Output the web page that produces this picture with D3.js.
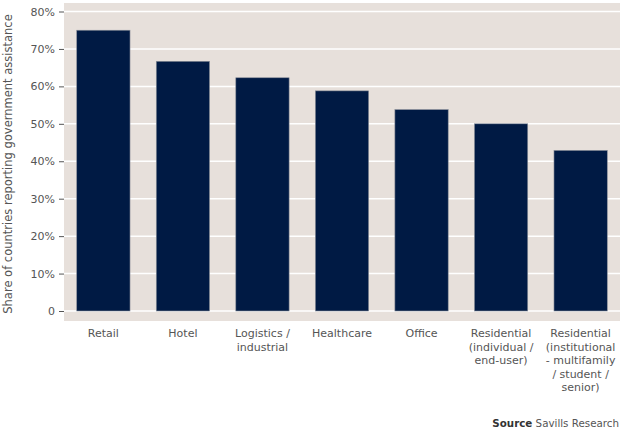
<!DOCTYPE html>
<html><head><meta charset="utf-8">
<script src="https://cdn.jsdelivr.net/npm/d3@7"></script>
<style>
body{margin:0;background:#fff;}
text{font-family:"DejaVu Sans",sans-serif;}
</style></head>
<body>
<svg id="c" width="626" height="439"></svg>
<script>
const categories = ["Retail","Hotel","Logistics / industrial","Healthcare","Office","Residential (individual / end-user)","Residential (institutional - multifamily / student / senior)"];
const labelLines = [["Retail"],["Hotel"],["Logistics /","industrial"],["Healthcare"],["Office"],["Residential","(individual /","end-user)"],["Residential","(institutional","- multifamily","/ student /","senior)"]];
const values = [75, 66.7, 62.3, 58.8, 53.8, 50, 42.9];
const yTicks = [0,10,20,30,40,50,60,70,80];
const yTickLabels = ["0","10%","20%","30%","40%","50%","60%","70%","80%"];

const svg = d3.select("#c");
const bg = {x0:64, x1:620, y0:3, y1:321};
const plot = {left:64, right:620, top:11.5, bottom:311};

svg.append("rect").attr("x",bg.x0).attr("y",bg.y0).attr("width",bg.x1-bg.x0).attr("height",bg.y1-bg.y0).attr("fill","#e7e0db");

const y = d3.scaleLinear().domain([0,80]).range([plot.bottom, plot.top]);
const x = d3.scaleBand().domain(categories).range([plot.left, plot.right]).paddingInner(0.33).paddingOuter(0.16);

svg.append("g").selectAll("line").data(yTicks).join("line")
  .attr("x1",plot.left).attr("x2",plot.right)
  .attr("y1",d=>y(d)).attr("y2",d=>y(d))
  .attr("stroke","#fff").attr("stroke-width",1.5);

const ax = svg.append("g").attr("transform",`translate(${plot.left},0)`)
  .call(d3.axisLeft(y).tickValues(yTicks).tickFormat((d,i)=>yTickLabels[i]).tickSize(5).tickPadding(4));
ax.select(".domain").remove();
ax.selectAll(".tick line").attr("stroke","#555");
ax.selectAll(".tick text").attr("fill","#555").attr("font-size",11);

svg.append("g").selectAll("rect").data(values).join("rect")
  .attr("x",(d,i)=>x(categories[i]))
  .attr("y",d=>y(d))
  .attr("width",x.bandwidth())
  .attr("height",d=>y(0)-y(d))
  .attr("fill","#001a44")
  .attr("stroke","#8a8f99").attr("stroke-width",0.6);

const lg = svg.append("g");
labelLines.forEach((lines,i)=>{
  const cx = x(categories[i]) + x.bandwidth()/2;
  lines.forEach((l,j)=>{
    lg.append("text").attr("text-anchor","middle").attr("fill","#555").attr("font-size",11)
      .attr("x",cx).attr("y",337+j*13.6).text(l);
  });
});

svg.append("text").attr("transform","translate(12,164) rotate(-90)")
  .attr("text-anchor","middle").attr("fill","#555").attr("font-size",11.5)
  .text("Share of countries reporting government assistance");

const src = svg.append("text").attr("x",619).attr("y",427).attr("text-anchor","end").attr("font-size",10.3).attr("fill","#333");
src.append("tspan").attr("font-weight","bold").text("Source");
src.append("tspan").attr("fill","#555").text("  Savills Research");
</script>
</body></html>
